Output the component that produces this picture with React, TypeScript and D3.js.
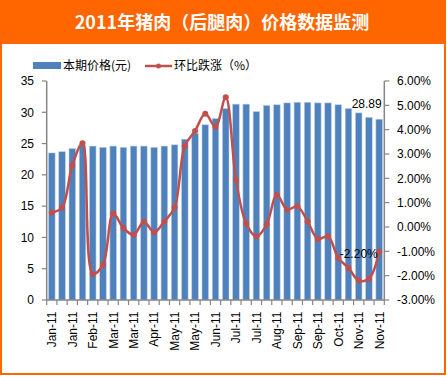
import React from "react";
import * as d3 from "d3";

const categories = [
  "Jan-11", "Jan-11", "Jan-11", "Feb-11", "Feb-11", "Feb-11", "Mar-11", "Mar-11", "Mar-11",
  "Apr-11", "Apr-11", "Apr-11", "May-11", "May-11", "May-11", "Jun-11", "Jun-11", "Jun-11",
  "Jul-11", "Jul-11", "Jul-11", "Aug-11", "Aug-11", "Aug-11", "Sep-11", "Sep-11", "Sep-11",
  "Oct-11", "Oct-11", "Oct-11", "Nov-11", "Nov-11", "Nov-11",
];

const priceValues = [
  23.5, 23.7, 24.2, 24.7, 24.6, 24.4, 24.6, 24.4, 24.6, 24.6, 24.4, 24.6, 24.8, 25.7, 26.6,
  28.0, 29.0, 30.6, 31.3, 31.3, 30.1, 31.1, 31.2, 31.5, 31.6, 31.6, 31.5, 31.5, 31.2, 30.6,
  29.9, 29.2, 28.89,
];

const changeValues = [
  0.6, 0.8, 2.53, 3.44, -1.93, -1.55, 0.55, -0.04, -0.32, 0.22, -0.22, 0.23, 0.8, 3.33, 3.95,
  4.65, 4.12, 5.33, 1.94, 0.14, -0.39, 0.1, 1.32, 0.71, 0.85, 0.23, -0.49, -0.39, -1.27, -1.68,
  -2.2, -2.13, -1.02,
];

const leftTicks = [0, 5, 10, 15, 20, 25, 30, 35];
const rightTicks = [-3, -2, -1, 0, 1, 2, 3, 4, 5, 6];

const title = "2011年猪肉（后腿肉）价格数据监测";
const legendBar = "本期价格(元)";
const legendLine = "环比跌涨（%）";

const W = 447;
const H = 377;
const plotLeft = 46.7;
const plotRight = 384.3;
const plotTop = 81;
const plotBottom = 300;
const ORANGE = "#FF6600";
const BLUE = "#4F81BD";
const RED = "#C0504D";
const AXIS = "#868686";
const latin = "'Liberation Sans', Arial, sans-serif";
const cjk = "'Noto Sans CJK SC', 'Liberation Sans', sans-serif";

export default function App() {
  const idx = categories.map((_, i) => i);
  const x = d3
    .scaleBand<number>()
    .domain(idx)
    .range([plotLeft, plotRight])
    .paddingInner(0.36)
    .paddingOuter(0.18);
  const step = x.step();
  const cx = (i: number) => (x(i) as number) + x.bandwidth() / 2;
  const yL = d3.scaleLinear().domain([0, 35]).range([plotBottom, plotTop]);
  const yR = d3.scaleLinear().domain([-3, 6]).range([plotBottom, plotTop]);

  const line = d3
    .line<number>()
    .x((_, i) => cx(i))
    .y((d) => yR(d))
    .curve(d3.curveCatmullRom.alpha(0.5));

  const lastI = priceValues.length - 1;
  const minI = changeValues.indexOf(d3.min(changeValues) as number);

  return (
    <svg
      width={W}
      height={H}
      style={{ position: "absolute", left: 0, top: 0, background: "#fff" }}
    >
      <rect x={0} y={0} width={W} height={H} fill="#fff" />
      <rect x={1} y={1} width={444} height={373} fill="none" stroke={ORANGE} strokeWidth={2} />
      <rect x={0} y={0} width={446} height={44} fill={ORANGE} />
      <text
        x={222}
        y={29}
        textAnchor="middle"
        fill="#fff"
        fontFamily={cjk}
        fontWeight="bold"
        fontSize={18}
      >
        {title}
      </text>

      {/* legend */}
      <rect x={33} y={62} width={28} height={7} fill={BLUE} />
      <text x={63} y={70} fontFamily={cjk} fontSize={12} fill="#000">
        {legendBar}
      </text>
      <line x1={145} x2={172} y1={66} y2={66} stroke={RED} strokeWidth={2.5} />
      <circle cx={158.5} cy={66} r={2.5} fill={RED} />
      <text x={174} y={70} fontFamily={cjk} fontSize={12} fill="#000">
        {legendLine}
      </text>

      {/* bars */}
      {priceValues.map((v, i) => (
        <rect
          key={i}
          x={x(i) as number}
          y={yL(v)}
          width={x.bandwidth()}
          height={plotBottom - yL(v)}
          fill={BLUE}
          stroke="#B9CDE5"
          strokeWidth={0.6}
        />
      ))}

      {/* axes */}
      <line x1={plotLeft} x2={plotLeft} y1={plotTop} y2={plotBottom} stroke={AXIS} strokeWidth={1.5} />
      <line x1={plotRight} x2={plotRight} y1={plotTop} y2={plotBottom} stroke={AXIS} strokeWidth={1.5} />
      <line x1={plotLeft} x2={plotRight} y1={plotBottom} y2={plotBottom} stroke={AXIS} strokeWidth={1.5} />
      {leftTicks.map((t) => (
        <g key={"l" + t}>
          <line x1={plotLeft - 5} x2={plotLeft} y1={yL(t)} y2={yL(t)} stroke={AXIS} strokeWidth={1.2} />
          <text
            x={34}
            y={yL(t)}
            dy="0.36em"
            textAnchor="end"
            fontFamily={latin}
            fontSize={12}
            fill="#000"
          >
            {t}
          </text>
        </g>
      ))}
      {rightTicks.map((t) => (
        <g key={"r" + t}>
          <line x1={plotRight} x2={plotRight + 5} y1={yR(t)} y2={yR(t)} stroke={AXIS} strokeWidth={1.2} />
          <text
            x={397}
            y={yR(t)}
            dy="0.36em"
            textAnchor="start"
            fontFamily={latin}
            fontSize={12}
            fill="#000"
          >
            {t.toFixed(2) + "%"}
          </text>
        </g>
      ))}
      {d3.range(categories.length + 1).map((k) => (
        <line
          key={"xt" + k}
          x1={plotLeft + step * k}
          x2={plotLeft + step * k}
          y1={plotBottom}
          y2={plotBottom + 5}
          stroke={AXIS}
          strokeWidth={1.2}
        />
      ))}
      {categories.map((c, i) =>
        i % 2 === 0 ? (
          <text
            key={"xl" + i}
            transform={`translate(${cx(i)},${311.5}) rotate(-90)`}
            textAnchor="end"
            dy="0.36em"
            fontFamily={latin}
            fontSize={12}
            fill="#000"
          >
            {c}
          </text>
        ) : null
      )}

      {/* line series */}
      <path d={line(changeValues) || ""} fill="none" stroke={RED} strokeWidth={2.5} />
      {changeValues.map((v, i) => (
        <circle key={"m" + i} cx={cx(i)} cy={yR(v)} r={3} fill={RED} />
      ))}

      {/* data labels */}
      <text
        x={cx(lastI) - 12.5}
        y={yL(priceValues[lastI]) - 11}
        textAnchor="middle"
        fontFamily={latin}
        fontSize={12}
        fill="#000"
      >
        {priceValues[lastI].toFixed(2)}
      </text>
      <text
        x={cx(minI)}
        y={yR(changeValues[minI]) - 23}
        textAnchor="middle"
        fontFamily={latin}
        fontSize={12}
        fill="#000"
      >
        {changeValues[minI].toFixed(2) + "%"}
      </text>
    </svg>
  );
}
